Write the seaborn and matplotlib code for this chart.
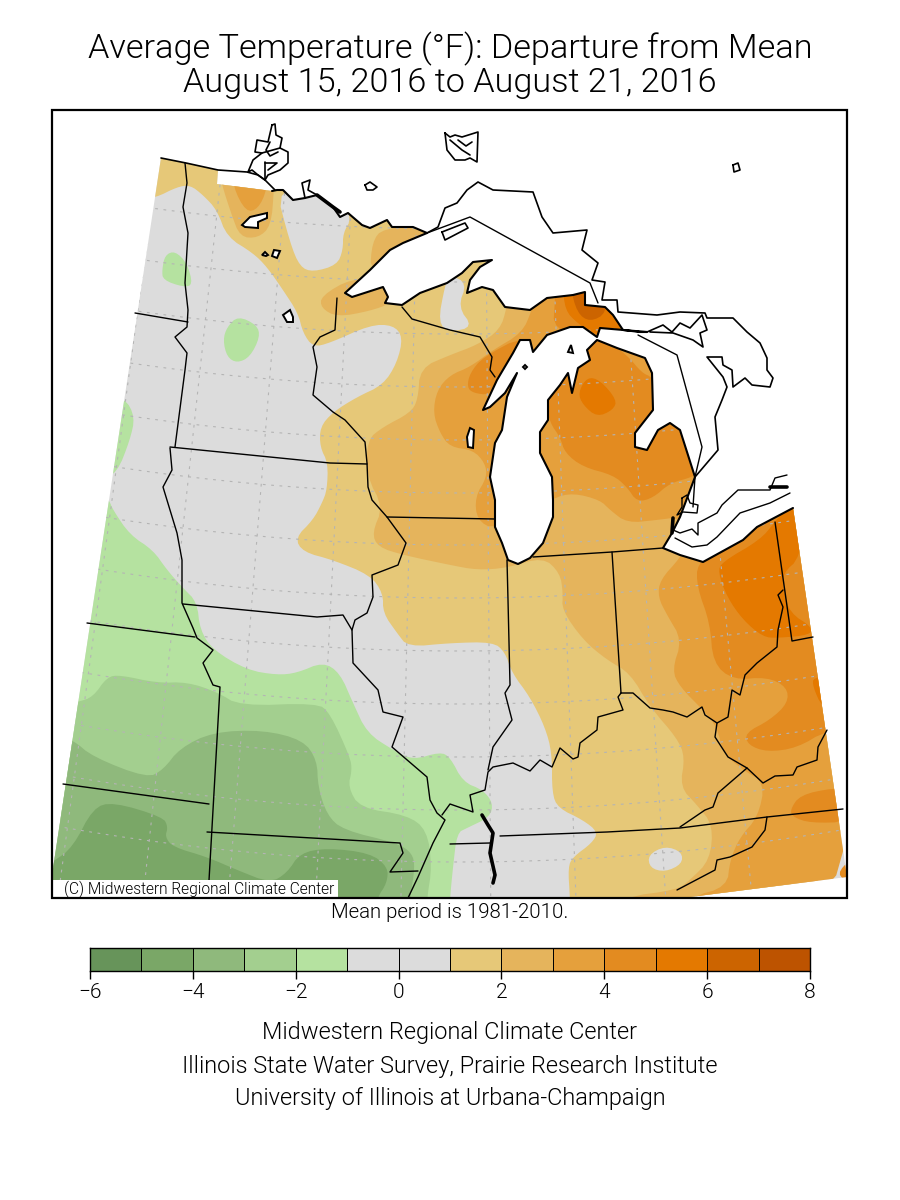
import numpy as np
import pandas as pd
import seaborn as sns
import matplotlib.pyplot as plt
from matplotlib.colors import ListedColormap
from matplotlib.patches import Polygon, Rectangle

# legend
levels = [-6, -4, -2, 0, 2, 4, 6, 8]
bands = [-6, -5, -4, -3, -2, -1, 0, 1, 2, 3, 4, 5, 6, 7]
band_colors = ['#67945a', '#7aa767', '#8fb97c', '#a3cf8f', '#b5e2a0', '#dcdcdc', '#dcdcdc',
               '#e6c878', '#e5b45c', '#e5a03c', '#e38b20', '#e47900', '#cc6400', '#bd5300']
gray = '#dcdcdc'
col = dict(zip(bands, band_colors))

# coast of the land area, in map coordinates
border_nw = [(161, 158), (186, 163), (218, 170)]
gap = [(217, 184)]
coast = [(272, 191), (277, 190), (283, 190), (293, 200), (305, 198), (317, 195), (333, 207), (340, 217), (348, 213), (362, 225), (370, 228),
         (387, 220), (392, 227), (413, 227), (427, 233), (403, 243), (390, 250), (370, 270), (345, 293), (352, 297),
         (383, 287), (388, 297), (385, 303), (402, 305), (420, 293), (447, 283), (462, 273), (473, 262), (492, 260),
         (480, 267), (470, 280), (467, 293), (482, 287), (493, 290), (505, 307), (530, 310), (547, 298), (573, 295),
         (585, 292), (585, 305), (605, 307), (613, 315), (623, 330), (640, 332), (647, 332), (600, 328), (597, 337), (583, 327),
         (570, 327), (547, 335), (533, 352), (530, 340), (520, 340), (513, 353), (497, 380), (483, 410), (490, 407),
         (505, 393), (517, 373), (507, 397), (502, 430), (495, 443), (490, 477), (495, 500), (495, 527), (502, 543),
         (508, 560), (518, 564), (530, 558), (543, 543), (553, 517), (553, 500), (552, 477), (540, 453), (540, 432),
         (548, 420), (548, 400), (560, 385), (568, 373), (572, 393), (578, 368), (590, 360), (587, 350), (597, 340),
         (617, 348), (645, 358), (652, 373), (653, 410), (635, 433), (635, 447), (647, 450), (658, 430), (670, 423),
         (680, 430), (695, 477), (680, 517), (672, 533), (663, 548), (680, 555), (703, 562), (743, 540), (757, 527),
         (793, 508)]
edges = [(847, 877), (690, 897), (52, 898), (52, 875)]

# band outlines, drawn in this order: (level, outline)
warm = [
    (1, [(140, 198), (155, 198), (177, 187), (190, 185), (203, 195), (217, 210), (227, 237), (253, 253), (267, 267),
         (283, 290), (298, 313), (303, 333), (313, 347), (330, 343), (370, 325), (393, 325), (403, 337), (397, 363),
         (383, 385), (357, 397), (333, 412), (320, 427), (320, 447), (328, 463), (327, 490), (322, 503), (313, 520),
         (295, 538), (303, 552), (333, 560), (370, 575), (383, 593), (383, 613), (397, 633), (408, 647), (450, 643),
         (493, 642), (505, 652), (512, 673), (530, 697), (545, 727), (552, 753), (552, 793), (558, 808), (583, 820),
         (598, 832), (592, 843), (573, 857), (568, 867), (570, 898), (570, 915), (870, 915), (870, 120), (140, 120)]),
    (-1, [(275, 185), (290, 243), (300, 267), (313, 272), (337, 265), (343, 250), (343, 233), (352, 218), (337, 190)]),
    (-1, [(445, 285), (438, 323), (450, 332), (473, 327), (458, 307), (467, 283), (450, 275)]),
    (-1, [(648, 855), (665, 846), (682, 852), (682, 864), (665, 872), (650, 868)]),
    (2, [(218, 165), (222, 185), (231, 213), (240, 237), (258, 238), (271, 226), (274, 190), (274, 165)]),
    (2, [(435, 225), (383, 228), (372, 242), (370, 275), (425, 280)]),
    (2, [(352, 278), (321, 296), (321, 308), (337, 317), (370, 311), (392, 303), (385, 281)]),
    (2, [(510, 280), (507, 307), (500, 330), (477, 345), (450, 355), (420, 368), (418, 400), (410, 413), (383, 427),
         (367, 440), (367, 477), (383, 507), (372, 533), (378, 547), (403, 555), (450, 565), (477, 570), (507, 568),
         (543, 557), (560, 573), (563, 593), (562, 610), (583, 640), (607, 660), (630, 673), (650, 707), (677, 738),
         (685, 757), (680, 787), (697, 805), (713, 825), (710, 860), (690, 880), (677, 890), (623, 897), (623, 915),
         (870, 915), (870, 280)]),
    (1, [(438, 610), (450, 600), (463, 605), (467, 610), (460, 617), (445, 619)]),
    (3, [(233, 165), (233, 187), (246, 212), (258, 209), (267, 190), (267, 165)]),
    (3, [(540, 280), (532, 310), (522, 333), (493, 350), (470, 367), (450, 375), (437, 390), (433, 413), (440, 433),
         (450, 447), (473, 450), (485, 463), (487, 477), (475, 497), (477, 520), (495, 530), (553, 498), (573, 493),
         (600, 500), (610, 510), (627, 523), (657, 520), (680, 517), (690, 540), (680, 558), (660, 580), (658, 597),
         (667, 615), (682, 640), (672, 670), (680, 687), (703, 710), (717, 727), (723, 753), (743, 770), (765, 783),
         (758, 817), (740, 837), (730, 860), (727, 887), (690, 897), (690, 915), (870, 915), (870, 280)]),
    (4, [(525, 335), (483, 357), (470, 373), (467, 387), (473, 393), (490, 395), (500, 380), (520, 365)]),
    (4, [(555, 285), (555, 300), (553, 330), (600, 345), (650, 340), (650, 285)]),
    (4, [(545, 400), (550, 423), (560, 437), (565, 453), (583, 467), (613, 475), (627, 487), (637, 502), (653, 498),
         (670, 483), (693, 477), (700, 470), (670, 400), (652, 377), (642, 373), (627, 355), (600, 335), (570, 350)]),
    (4, [(697, 563), (697, 587), (710, 623), (713, 663), (733, 680), (767, 677), (787, 687), (788, 703), (770, 720),
         (745, 733), (748, 745), (767, 752), (797, 748), (827, 730), (870, 730), (870, 490), (790, 490), (720, 550)]),
    (4, [(790, 810), (800, 795), (833, 788), (850, 790), (850, 822), (810, 823), (793, 817)]),
    (4, [(837, 877), (845, 863), (860, 860), (860, 885)]),
    (5, [(722, 562), (718, 572), (727, 597), (743, 620), (763, 637), (778, 638), (810, 635), (812, 627), (790, 613),
         (783, 590), (783, 573), (800, 558), (810, 500), (793, 500), (775, 522), (760, 540)]),
    (5, [(813, 687), (822, 707), (835, 707), (835, 677), (813, 677)]),
    (5, [(578, 393), (587, 377), (600, 380), (617, 400), (613, 410), (597, 417), (583, 405)]),
    (5, [(563, 285), (565, 310), (577, 323), (598, 337), (627, 327), (613, 313), (605, 295)]),
    (6, [(570, 285), (577, 313), (590, 322), (607, 313), (605, 285)]),
]
cold = [
    (-2, [(100, 395), (125, 398), (135, 417), (130, 440), (117, 473), (100, 480)]),
    (-2, [(162, 270), (163, 280), (183, 287), (193, 285), (187, 263), (175, 251), (165, 255)]),
    (-2, [(223, 340), (227, 357), (237, 363), (250, 357), (260, 337), (257, 325), (238, 316), (227, 327)]),
    (-2, [(100, 490), (109, 500), (113, 510), (130, 535), (153, 550), (167, 570), (183, 588), (197, 602), (200, 630),
          (213, 650), (247, 670), (277, 675), (297, 673), (323, 662), (340, 673), (353, 703), (367, 733), (393, 750),
          (413, 760), (440, 752), (450, 757), (463, 782), (483, 790), (493, 803), (490, 817), (467, 828), (457, 833),
          (453, 867), (450, 898), (450, 915), (40, 915), (40, 490)]),
    (-3, [(60, 705), (78, 702), (93, 697), (107, 677), (120, 675), (157, 683), (187, 682), (217, 692), (240, 706),
          (317, 703), (330, 713), (350, 757), (352, 770), (348, 787), (360, 808), (407, 815), (427, 830), (432, 867),
          (427, 898), (427, 915), (40, 915), (40, 705)]),
    (-4, [(55, 735), (73, 740), (93, 757), (147, 778), (163, 770), (180, 748), (213, 732), (263, 730), (303, 740),
          (317, 760), (318, 787), (327, 815), (343, 830), (397, 843), (412, 853), (415, 867), (410, 898), (410, 915),
          (40, 915), (40, 735)]),
    (-5, [(40, 866), (53, 862), (73, 847), (93, 808), (113, 802), (163, 817), (168, 827), (165, 837), (173, 847),
          (207, 857), (237, 870), (270, 883), (287, 873), (300, 853), (327, 848), (370, 853), (388, 867), (387, 883),
          (377, 898), (377, 915), (40, 915)]),
]

# state and province lines
state_lines = {
    'nd_sd': [(135, 313), (188, 322)],
    'mn_w': [(185, 163), (187, 183), (183, 207), (188, 233), (185, 283), (188, 310), (187, 327), (175, 337), (187, 353),
             (185, 370), (175, 447)],
    'mn_s': [(170, 447), (330, 463), (367, 464)],
    'mn_e': [(337, 298), (335, 330), (320, 337), (313, 347), (317, 367), (313, 395), (333, 412), (345, 420), (365, 442),
             (367, 463), (368, 487), (372, 500), (387, 517), (406, 543), (398, 565), (372, 575), (373, 597), (367, 613),
             (355, 620), (352, 630), (353, 663), (378, 690), (383, 712), (403, 717), (392, 747), (427, 777), (430, 800),
             (437, 813), (445, 820), (433, 843), (418, 877), (408, 898)],
    'sd_ia': [(170, 448), (172, 470), (163, 487), (170, 510), (177, 533), (182, 560), (182, 603), (193, 628), (197, 638),
              (213, 650), (203, 663), (213, 685), (220, 687), (208, 898)],
    'sd_ne': [(87, 623), (195, 637)],
    'ne_ks': [(63, 784), (209, 804)],
    'ia_s': [(183, 604), (317, 617), (343, 615), (352, 630)],
    'wi_il': [(387, 517), (495, 519)],
    'wi_mi': [(402, 307), (412, 319), (450, 330), (480, 337), (492, 357), (490, 370), (495, 377)],
    'il_in': [(507, 560), (508, 600), (510, 685), (505, 693), (512, 720), (493, 747), (488, 770)],
    'in_mi': [(533, 557), (612, 552), (663, 548)],
    'in_oh': [(612, 552), (621, 693)],
    'ohio_w': [(621, 693), (618, 697), (623, 710), (598, 717), (597, 730), (580, 743), (578, 757), (573, 759), (560, 748),
               (552, 767), (540, 760), (530, 771), (513, 763), (493, 767), (488, 772), (485, 790), (470, 795), (473, 812),
               (450, 804), (442, 815)],
    'ohio_e': [(621, 693), (633, 693), (650, 708), (663, 710), (673, 712), (687, 717), (702, 707), (705, 715), (717, 723),
               (728, 717), (732, 690), (740, 695), (745, 675), (757, 663), (777, 647), (778, 630), (783, 607), (778, 595),
               (783, 590)],
    'oh_pa': [(775, 522), (792, 641), (813, 637)],
    'ky_wv': [(717, 723), (715, 737), (728, 757), (747, 768), (763, 783), (775, 776), (793, 775), (797, 767), (817, 760),
              (818, 747), (827, 730)],
    'ky_va': [(747, 768), (718, 793), (713, 807), (705, 810), (680, 827)],
    'tn_n': [(500, 836), (607, 832), (680, 828), (767, 817), (843, 809)],
    'tn_w': [(450, 844), (490, 843)],
    'nc_tn': [(767, 817), (765, 830), (752, 847), (730, 857), (717, 860), (715, 870), (677, 890)],
    'ks_mo': [(207, 832), (400, 843), (403, 853), (390, 872), (418, 871)],
    'superior': [(427, 233), (470, 217), (590, 283), (598, 303)],
    'huron': [(638, 335), (677, 355), (702, 447), (695, 477), (693, 507)],
    'erie_2': [(675, 538), (692, 547), (707, 545), (717, 537), (740, 513), (770, 503), (790, 493)],
    'erie_n': [(673, 530), (680, 533), (692, 529), (698, 535), (698, 523), (717, 513), (722, 505), (738, 490), (770, 490),
               (775, 478), (787, 475)],
    'stclair': [(682, 498), (687, 495), (690, 503), (698, 505), (697, 513), (683, 512), (677, 515), (682, 507), (682, 498)],
}
canada_lines = {
    'can_sup': [(427, 233), (438, 227), (445, 208), (457, 203), (467, 190), (478, 182), (493, 190), (533, 192), (542, 217),
                (553, 233), (587, 230), (582, 250), (598, 263), (592, 280), (605, 282), (602, 300), (617, 300), (618, 312),
                (657, 315), (680, 312), (705, 313), (707, 318), (733, 318), (747, 332), (760, 343), (767, 358), (767, 370),
                (773, 378), (770, 387), (752, 385), (745, 378), (733, 387), (732, 370), (723, 365), (722, 357), (707, 357),
                (723, 377), (727, 387), (722, 400), (715, 417), (718, 450), (695, 477)],
    'manitoulin': [(647, 332), (663, 325), (672, 332), (680, 323), (690, 328), (702, 315), (707, 330), (700, 333), (703, 347),
                   (693, 340), (673, 333), (650, 332)],
    'isle_royale': [(442, 232), (465, 223), (468, 228), (445, 240), (442, 232)],
    'nipigon': [(272, 125), (275, 124), (276, 135), (282, 138), (280, 148), (288, 152), (288, 163), (280, 170), (268, 175),
                (265, 180), (258, 175), (252, 170), (248, 172), (253, 160), (262, 153), (255, 152), (257, 140), (268, 142),
                (272, 125)],
    'nipigon_in1': [(262, 153), (280, 148)],
    'nipigon_in2': [(265, 162), (265, 180)],
    'nipigon_in3': [(265, 163), (277, 163), (268, 170)],
    'nipigon_in4': [(270, 142), (266, 150), (270, 156), (278, 152)],
    'isl1': [(365, 185), (370, 182), (377, 187), (373, 190), (367, 190), (365, 185)],
    'isl2': [(445, 133), (450, 137), (455, 135), (462, 137), (478, 132), (477, 162), (470, 158), (465, 160), (455, 160), (447, 150), (445, 133)],
    'isl2_in': [(450, 140), (462, 150), (470, 155)],
    'isl2_in2': [(458, 140), (466, 146), (472, 142)],
    'isl3': [(733, 165), (738, 163), (740, 170), (734, 172), (733, 165)],
    'nw_line': [(161, 158), (186, 163), (218, 170), (247, 172), (258, 175), (265, 180), (275, 190)],
    'isl4': [(305, 198), (302, 183), (310, 180), (308, 190), (317, 195)],
}
thick_lines = {
    'rainy': [(317, 195), (333, 207), (340, 212)],
    'detroit': [(673, 518), (672, 533)],
    'st_clair': [(770, 487), (787, 487)],
    'river': [(482, 815), (488, 825), (493, 833), (490, 853), (495, 875), (493, 883)],
}
inland_lakes = [
    [(242, 225), (250, 217), (267, 213), (267, 218), (258, 222), (258, 228), (245, 227)],
    [(262, 255), (265, 252), (268, 255), (266, 256)],
    [(272, 256), (274, 250), (280, 251), (277, 258)],
    [(283, 315), (290, 310), (293, 317), (293, 322), (287, 322)],
    [(467, 437), (470, 428), (474, 430), (473, 448), (468, 447)],
    [(568, 352), (571, 345), (573, 353)],
    [(523, 367), (525, 365), (527, 367), (525, 369)],
]

# graticule
meridians_x = [112, 186, 260, 336, 410, 488, 562, 640, 715, 800]
parallels_y = [176, 229, 282, 334, 387, 440, 493, 545, 598, 651, 704, 757, 810, 862]

footer = ['Midwestern Regional Climate Center',
          'Illinois State Water Survey, Prairie Research Institute',
          'University of Illinois at Urbana-Champaign']


def smooth(pts, n=2):
    # corner cutting so the contour outlines look round
    p = np.array(pts, dtype=float)
    for _ in range(n):
        q = np.roll(p, -1, axis=0)
        p = np.column_stack([0.75 * p + 0.25 * q, 0.25 * p + 0.75 * q]).reshape(-1, 2)
    return p


def draw_lines(ax, lines, lw):
    rows = [(name, x, y) for name, pts in lines.items() for x, y in pts]
    d = pd.DataFrame(rows, columns=['line', 'x', 'y'])
    n = len(ax.get_lines())
    sns.lineplot(data=d, x='x', y='y', units='line', estimator=None, sort=False, color='black',
                 linewidth=lw, ax=ax, legend=False)
    for line in ax.get_lines()[n:]:
        line.set_zorder(5)


sns.set_theme(style='white')
plt.rcParams['font.family'] = ['Roboto', 'DejaVu Sans']
plt.rcParams['text.color'] = 'black'
plt.rcParams['xtick.color'] = 'black'
light = 300

fig = plt.figure(figsize=(9, 12), dpi=100, facecolor='white')
ax = fig.add_axes([0, 0, 1, 1])

land = Polygon(border_nw + gap + coast + edges, closed=True, fc=gray, ec='none', zorder=1)
ax.add_patch(land)

for level, pts in warm + cold:
    c = gray if level == -1 else col[level]
    p = Polygon(smooth(pts), closed=True, fc=c, ec='none', zorder=2)
    ax.add_patch(p)
    p.set_clip_path(land)

# dotted graticule over the land
for x0 in meridians_x:
    yy = np.array([110, 900])
    xx = x0 + 0.00038 * (x0 - 470) * (yy - 500)
    l, = ax.plot(xx, yy, color='#b4b4b4', lw=0.8, ls=(0, (2.5, 5)), zorder=3)
    l.set_clip_path(land)
for y0 in parallels_y:
    xx = np.linspace(40, 860, 40)
    yy = y0 - 0.00022 * (xx - 460) ** 2
    l, = ax.plot(xx, yy, color='#b4b4b4', lw=0.8, ls=(0, (2.5, 5)), zorder=3)
    l.set_clip_path(land)

draw_lines(ax, state_lines, 1.0)
draw_lines(ax, canada_lines, 1.2)
draw_lines(ax, {'coast': coast}, 1.5)
draw_lines(ax, thick_lines, 2.6)

for pts in inland_lakes:
    ax.add_patch(Polygon(pts, closed=True, fc='white', ec='black', lw=1.4, zorder=6))

# white strip with the credit in the corner
ax.add_patch(Rectangle((53, 880), 285, 18, fc='white', ec='none', zorder=7))
ax.text(64, 889, '(C) Midwestern Regional Climate Center', fontsize=11.2, va='center', ha='left', zorder=8,
        fontweight=light)

ax.add_patch(Rectangle((52, 110), 795, 788, fc='none', ec='black', lw=1.6, zorder=9))

ax.set_xlim(0, 900)
ax.set_ylim(1200, 0)
ax.axis('off')

ax.text(450, 49, 'Average Temperature (°F): Departure from Mean', fontsize=24.7, ha='center', va='center',
        fontweight=light)
ax.text(450, 83, 'August 15, 2016 to August 21, 2016', fontsize=24.7, ha='center', va='center', fontweight=light)
ax.text(450, 912, 'Mean period is 1981-2010.', fontsize=14.7, ha='center', va='center', fontweight=light)
for y, s in zip([1033, 1066, 1098], footer):
    ax.text(450, y, s, fontsize=17, ha='center', va='center', fontweight=light)

# colour bar
cax = fig.add_axes([90 / 900, 1 - 971 / 1200, 720 / 900, 23 / 1200])
sns.heatmap(np.array([bands]), cmap=ListedColormap(band_colors), cbar=False, linewidths=0.4, linecolor='black',
            xticklabels=False, yticklabels=False, ax=cax)
cax.set_xticks(np.arange(0, 15, 2))
cax.set_xticklabels([str(v).replace('-', '\u2212') for v in levels], fontsize=15, fontweight=light)
cax.tick_params(axis='x', length=6, width=1, color='black', bottom=True, pad=3, rotation=0)
for s in cax.spines.values():
    s.set_visible(True)
    s.set_color('black')
    s.set_linewidth(1)

fig.savefig('out.png', dpi=100)
